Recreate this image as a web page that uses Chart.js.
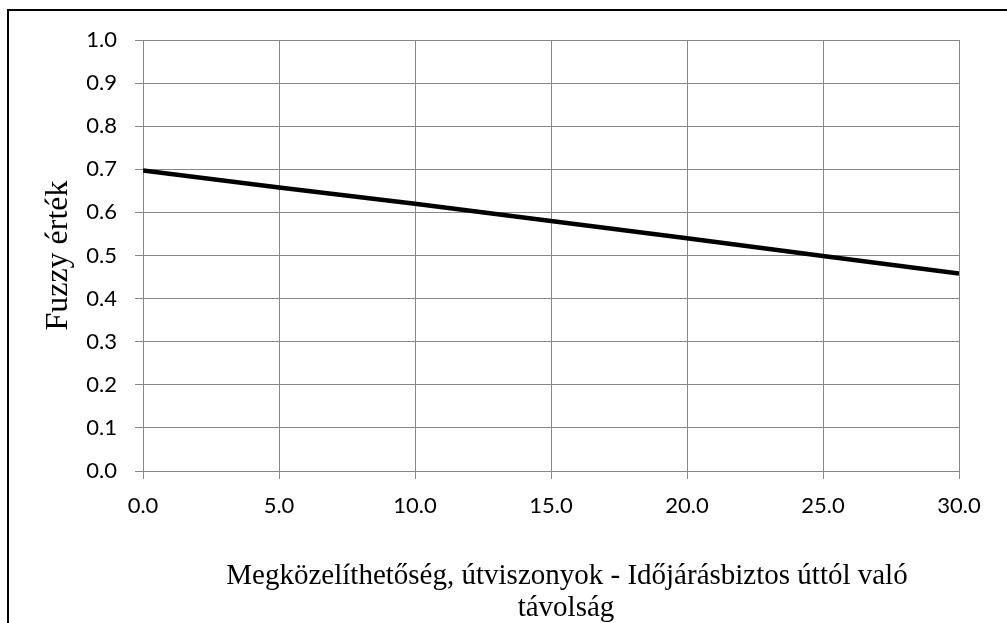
<!DOCTYPE html>
<html>
<head>
<meta charset="utf-8">
<script src="https://cdn.jsdelivr.net/npm/chart.js@4.4.0/dist/chart.umd.min.js"></script>
<style>
    html, body { margin: 0; padding: 0; background: #fff; }
    #wrap { position: relative; width: 1007px; height: 623px; }
</style>
</head>
<body>
<div id="wrap"><canvas id="chart" width="1007" height="623"></canvas></div>
<script>
// distance values (x) and fuzzy values
const distances = [0, 5, 10, 15, 20, 25, 30];
const fuzzyValues = [0.697, 0.658, 0.620, 0.580, 0.540, 0.499, 0.458];
const xTicks = [0, 5, 10, 15, 20, 25, 30];
const yTicks = [0, 0.1, 0.2, 0.3, 0.4, 0.5, 0.6, 0.7, 0.8, 0.9, 1.0];
const yTitle = "Fuzzy érték";
const xTitle = ["Megközelíthetőség, útviszonyok - Időjárásbiztos úttól való", "távolság"];

document.addEventListener("DOMContentLoaded", function() {
    // outer frame (only top and left edges fall inside the picture) + x axis title
    const frame = {
        id: "frame",
        beforeDraw(chart) {
            const ctx = chart.ctx;
            ctx.save();
            ctx.strokeStyle = "#000";
            ctx.lineWidth = 2;
            ctx.strokeRect(8, 10, 1100, 700);
            ctx.restore();
        },
        afterDraw(chart) {
            // the x title sits a bit right of the plot centre, like the original
            const ctx = chart.ctx;
            ctx.save();
            ctx.fillStyle = "#000";
            ctx.font = "29px 'Liberation Serif'";
            ctx.textAlign = "center";
            ctx.textBaseline = "alphabetic";
            ctx.fillText(xTitle[0], 567, 584);
            ctx.fillText(xTitle[1], 566, 616);
            ctx.restore();
        }
    };
    const points = distances.map((d, i) => ({ x: d, y: fuzzyValues[i] }));
    new Chart(document.getElementById("chart").getContext("2d"), {
        type: "line",
        data: {
            datasets: [{
                data: points,
                borderColor: "#000",
                borderWidth: 4.5,
                pointRadius: 0,
                tension: 0,
                fill: false
            }]
        },
        options: {
            responsive: false,
            animation: false,
            layout: { padding: { left: 8, top: 40, right: 48, bottom: 0 } },
            plugins: { legend: { display: false }, tooltip: { enabled: false } },
            scales: {
                x: {
                    type: "linear",
                    min: 0,
                    max: 30,
                    afterBuildTicks: scale => { scale.ticks = xTicks.map(v => ({ value: v })); },
                    afterFit: scale => { scale.height = 152; },
                    grid: { color: "#888", lineWidth: 1, tickLength: 8, tickColor: "#888" },
                    border: { color: "#888", width: 1 },
                    ticks: {
                        padding: 14,
                        color: "#000",
                        font: { family: "Lato", size: 22 },
                        callback: v => Number(v).toFixed(1)
                    },
                    title: { display: false }
                },
                y: {
                    min: 0,
                    max: 1,
                    afterBuildTicks: scale => { scale.ticks = yTicks.map(v => ({ value: v })); },
                    afterFit: scale => { scale.width = 135; },
                    grid: { color: "#888", lineWidth: 1, tickLength: 8, tickColor: "#888" },
                    border: { color: "#888", width: 1 },
                    ticks: {
                        padding: 18,
                        color: "#000",
                        font: { family: "Lato", size: 22 },
                        callback: v => Number(v).toFixed(1)
                    },
                    title: {
                        display: true,
                        text: yTitle,
                        color: "#000",
                        font: { family: "Liberation Serif", size: 32, lineHeight: 1.2 },
                        padding: { top: 31, bottom: 0 }
                    }
                }
            }
        },
        plugins: [frame]
    });
});
</script>
</body>
</html>
